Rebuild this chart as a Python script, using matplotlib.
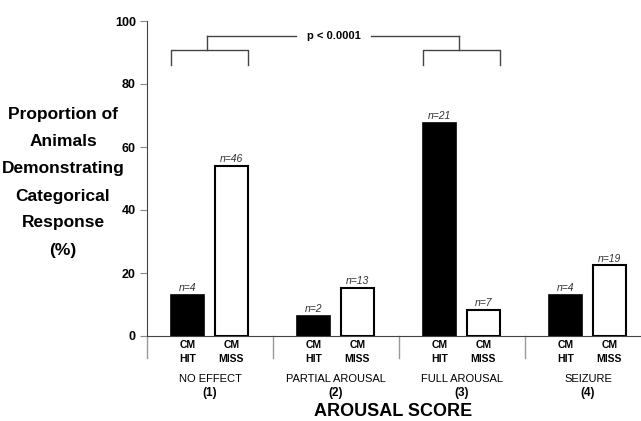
import matplotlib.pyplot as plt
import numpy as np

plt.rcParams['font.family'] = ['Liberation Sans', 'DejaVu Sans']

# dados
grupos = ['NO EFFECT', 'PARTIAL AROUSAL', 'FULL AROUSAL', 'SEIZURE']
codigos = ['(1)', '(2)', '(3)', '(4)']
hit_pct = [12.9, 6.5, 67.7, 12.9]
miss_pct = [54.1, 15.3, 8.2, 22.4]
hit_n = [4, 2, 21, 4]
miss_n = [46, 13, 7, 19]
hit_rotulo = 'CM\nHIT'
miss_rotulo = 'CM\nMISS'
ylabel_linhas = ['Proportion of', 'Animals', 'Demonstrating', 'Categorical', 'Response', '(%)']

fig = plt.figure(figsize=(6.41, 4.21), dpi=100)
ax = fig.add_axes([147/641, 1 - 336/421, 1 - 147/641, (336 - 21)/421])

centros = np.arange(len(grupos)) + 0.5
larg = 0.26
x_hit = centros - 0.18
x_miss = centros + 0.17

b1 = ax.bar(x_hit, hit_pct, width=larg, color='black', edgecolor='black', linewidth=1.2)
b2 = ax.bar(x_miss, miss_pct, width=larg, color='white', edgecolor='black', linewidth=1.5)

for barras, ns in ((b1, hit_n), (b2, miss_n)):
    for barra, n in zip(barras, ns):
        ax.text(barra.get_x() + barra.get_width()/2, barra.get_height() + 0.6,
                f'n={n}', ha='center', va='bottom', fontsize=7.5,
                style='italic', color='#333333')

ax.set_xlim(0, 494/126)
ax.set_ylim(0, 100)
ax.set_yticks([0, 20, 40, 60, 80, 100])
ax.tick_params(axis='y', length=5, color='#888888', labelsize=9, pad=3)
for t in ax.get_yticklabels():
    t.set_fontweight('bold')

posx = np.concatenate([x_hit, x_miss])
ax.set_xticks(posx, [hit_rotulo]*4 + [miss_rotulo]*4)
ax.tick_params(axis='x', length=0, labelsize=7.5, pad=3)
for t in ax.get_xticklabels():
    t.set_fontweight('bold')
    t.set_linespacing(1.45)

for s in ['top', 'right']:
    ax.spines[s].set_visible(False)
ax.spines['left'].set_color('#444444')
ax.spines['bottom'].set_color('#444444')

# separadores dos grupos abaixo do eixo
for xs in range(len(grupos)):
    ax.plot([xs, xs], [0, -7], color='#999999', lw=1, clip_on=False)

trans = ax.get_xaxis_transform()
for c, g, cod in zip(centros, grupos, codigos):
    ax.text(c, -0.135, g, transform=trans, ha='center', va='center', fontsize=8)
    ax.text(c, -0.18, cod, transform=trans, ha='center', va='center', fontsize=8.5, weight='bold')

fig.text(393/641, 1 - 412/421, 'AROUSAL SCORE', ha='center', va='center', fontsize=13, weight='bold')

# rótulo do eixo y, uma linha por vez
for k, linha in enumerate(ylabel_linhas):
    fig.text(63/641, 1 - (115 + 27*k)/421, linha, ha='center', va='center',
             fontsize=12.5, weight='bold')

# colchete de significancia
cor = '#444444'
y_top, y_mid, y_low = 95.3, 90.8, 86.0
for i in (0, 2):
    ax.plot([x_hit[i] - larg/2, x_hit[i] - larg/2, x_miss[i] + larg/2, x_miss[i] + larg/2],
            [y_low, y_mid, y_mid, y_low], color=cor, lw=1, clip_on=False)
    ax.plot([centros[i] - 0.02, centros[i] - 0.02], [y_mid, y_top], color=cor, lw=1, clip_on=False)
meio = (centros[0] + centros[2]) / 2 - 0.02
ax.plot([centros[0] - 0.02, meio - 0.30], [y_top, y_top], color=cor, lw=1, clip_on=False)
ax.plot([meio + 0.30, centros[2] - 0.02], [y_top, y_top], color=cor, lw=1, clip_on=False)
ax.text(meio, y_top, 'p < 0.0001', ha='center', va='center', fontsize=8, weight='bold')

plt.savefig('out.png', dpi=100)
